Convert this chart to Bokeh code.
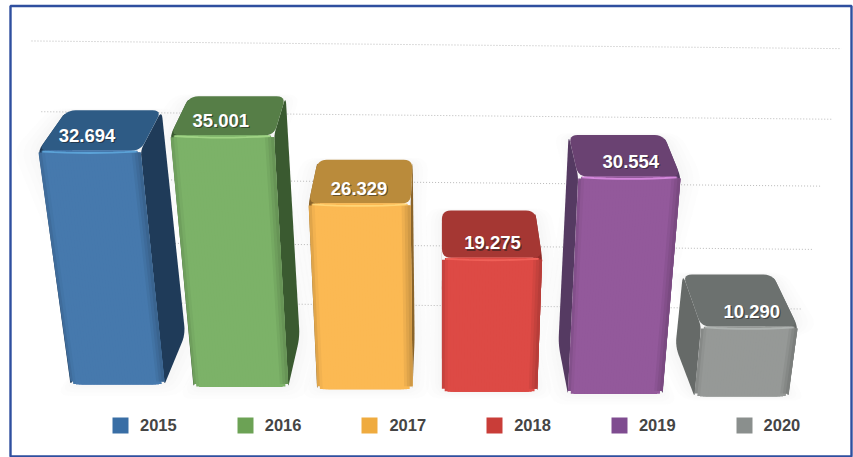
from bokeh.plotting import figure
from bokeh.models import ColumnDataSource, Legend, LegendItem, Range1d
from bokeh.embed import file_html
from bokeh.resources import INLINE
from bokeh.core.properties import value
import numpy as np

# ---- chart data ----
years = ["2015", "2016", "2017", "2018", "2019", "2020"]
values = [32694, 35001, 26329, 19275, 30554, 10290]
labels = ["32.694", "35.001", "26.329", "19.275", "30.554", "10.290"]
grid_values = [10000, 20000, 30000, 40000, 50000]

legend_colors = ["#396ea5", "#6ca255", "#efab3f", "#c93d38", "#7f4c90", "#8a8f8d"]
front_colors = ["#4679ad", "#7cb268", "#fbb953", "#dd4a45", "#93599b", "#969997"]
top_colors = ["#2e5b85", "#567e47", "#ba8b3b", "#a53733", "#6a4272", "#6c716f"]
side_colors = ["#1f3b59", "#3a5a30", "#8a642a", "#8f2c28", "#553a62", "#666a68"]
edge_colors = ["#5fa9de", "#a6d98a", "#ffd97c", "#f2645c", "#df8fe6", "#b2b6b4"]

# ---- value scale / projection of the 3D scene ----
W, H = 853, 457
BAR_STEP = 124.8      # px per category
VAL_PX = 0.00707      # px per value unit (axis scale)
X0, Y0 = 117.0, 384.0 # screen position of category 0 at value 0
VX = 440.0            # vanishing column


def dx(px):
    return (np.asarray(px, dtype=float) - X0) / BAR_STEP


def dy(py):
    return (Y0 - np.asarray(py, dtype=float)) / VAL_PX


def hexmix(c, t, target=(0, 0, 0)):
    r = [int(c[k:k + 2], 16) for k in (1, 3, 5)]
    m = [int(round(a + (b - a) * t)) for a, b in zip(r, target)]
    return "#%02x%02x%02x" % tuple(m)


def rounded(pts, radii):
    pts = [np.array(p, float) for p in pts]
    n = len(pts)
    if np.isscalar(radii):
        radii = [radii] * n
    out = []
    for k in range(n):
        r = radii[k]
        p_, a, b = pts[k], pts[k - 1], pts[(k + 1) % n]
        ra = min(r, np.linalg.norm(a - p_) / 2)
        rb = min(r, np.linalg.norm(b - p_) / 2)
        s = p_ + (a - p_) / np.linalg.norm(a - p_) * ra
        e = p_ + (b - p_) / np.linalg.norm(b - p_) * rb
        for t in np.linspace(0, 1, 7):
            out.append((1 - t) ** 2 * s + 2 * t * (1 - t) * p_ + t ** 2 * e)
    return np.array(out)


def box(i, v):
    kv = v / 1000
    h = 6.65 * kv + 0.0155 * kv * kv   # perspective foreshortening of height
    floor = Y0 + 2.4 * i
    c = X0 + BAR_STEP * i - 2.4 * np.sin(np.pi * i / 5)
    half = 47 + 0.35 * (2.5 - abs(i - 2.5))
    k = 1 + 0.00037 * h
    fb = [(c - half, floor), (c + half, floor)]
    ft_y = floor - h
    ft = [(VX + (c - half - VX) * k, ft_y), (VX + (c + half - VX) * k, ft_y)]
    s = 0.93
    bt_y = ft_y - (57 - 0.072 * h)
    bt = [(VX + (x - VX) * s, bt_y) for x, _ in ft]
    sb = 0.925
    bb_y = floor - 50
    bb = [(VX + (x - VX) * sb, bb_y) for x, _ in fb]
    return fb, ft, bt, bb


p = figure(width=W, height=H, output_backend="svg", toolbar_location=None,
           x_range=Range1d(float(dx(0)), float(dx(W))), y_range=Range1d(float(dy(H)), float(dy(0))),
           min_border=0, outline_line_color=None, background_fill_color="white",
           border_fill_color="white")
p.axis.visible = False
p.grid.visible = False


def poly(pts, **kw):
    pts = np.asarray(pts)
    return p.patch(dx(pts[:, 0]), dy(pts[:, 1]), **kw)


# frame
p.quad(left=[float(dx(10))], right=[float(dx(851))], top=[float(dy(5.5))], bottom=[float(dy(456))],
       fill_color=None, line_color="#2f4f9f", line_width=2.4)

# soft floor shadows
for i, v in enumerate(values):
    fb, ft, bt, bb = box(i, v)
    hull = np.array([ft[0], bt[0], bt[1], ft[1], bb[1], fb[1], fb[0], bb[0]])
    ctr = np.array([hull[:, 0].mean(), hull[:, 1].min() + 40])
    for g in (20, 14, 9, 5):
        sx = 1 + g / 60
        sy = 1 + g / 420
        grown = ctr + (hull - ctr) * np.array([sx, sy])
        poly(rounded(grown, 14), fill_color="#b4b4b4", fill_alpha=0.03, line_color=None)

# gridlines at the back wall
for gv in grid_values:
    g = gv / 1000
    ymid = 361 - 5.42 * g - 0.0183 * g * g
    half = 356 + 0.98 * g
    xs = np.array([436 - half, 436 + half])
    ys = ymid + (xs - 430) * 0.0095
    p.line(dx(xs), dy(ys), line_color="#a8a8a8", line_width=1, line_dash="1 2", line_alpha=0.8)

# bars
for i, v in enumerate(values):
    fb, ft, bt, bb = box(i, v)
    poly(rounded([fb[1], ft[1], bt[1], bb[1]], [3, 6, 8, 9]), fill_color=side_colors[i], line_color=None)
    poly(rounded([fb[0], ft[0], bt[0], bb[0]], [3, 6, 8, 9]), fill_color=side_colors[i], line_color=None)
    poly(rounded([ft[0], bt[0], bt[1], ft[1]], 9), fill_color=top_colors[i], line_color=None)

    # front face built of shaded strips painted left to right, with rounded ends
    N = 34
    us = np.linspace(0, 1, N + 1)
    step = us[1] - us[0]
    ru = 0.06

    def inset_at(u):
        dist = min(u, 1 - u)
        return 0.0 if dist >= ru else (1 - np.sqrt(max(0, 1 - ((ru - dist) / ru) ** 2)))

    xs_list, ys_list, cols = [], [], []
    for a in us[:-1]:
        e = min(a + 3 * step, 1.0)
        m = a + step / 2
        ins = max(inset_at(a), inset_at(e))
        xtl = ft[0][0] + (ft[1][0] - ft[0][0]) * a
        xtr = ft[0][0] + (ft[1][0] - ft[0][0]) * e
        xbl = fb[0][0] + (fb[1][0] - fb[0][0]) * a
        xbr = fb[0][0] + (fb[1][0] - fb[0][0]) * e
        yt = ft[0][1] + ins * 2
        yb = fb[0][1] - ins * 3
        shade = 0.0
        if m > 0.9:
            shade = (m - 0.9) / 0.1 * 0.2
        elif m < 0.06:
            shade = (0.06 - m) / 0.06 * 0.14
        xs_list.append(dx([xtl, xtr, xbr, xbl]))
        ys_list.append(dy([yt, yt, yb, yb]))
        cols.append(hexmix(front_colors[i], shade))
    p.patches(xs_list, ys_list, fill_color=cols, line_color=None)

    # bright edge between the top and front faces
    ex = np.linspace(ft[0][0] + 4, ft[1][0] - 4, 9)
    ey = ft[0][1] + 1 + 1.5 * np.sin(np.linspace(0, np.pi, 9))
    p.line(dx(ex), dy(ey), line_color=edge_colors[i], line_width=1.8, line_alpha=0.85)

# value labels
lx, ly = [], []
for i, v in enumerate(values):
    fb, ft, bt, bb = box(i, v)
    lx.append((ft[0][0] + ft[1][0]) / 2 + 1.0 * (i - 2.5))
    ly.append(ft[0][1] - 15)
lx = np.array(lx)
ly = np.array(ly)
src = ColumnDataSource(dict(x=dx(lx), y=dy(ly), s=dx(lx + 1.2), t=dy(ly + 1.3), label=labels))
p.text("s", "t", text="label", source=src, text_color="#1c1c1c", text_alpha=0.55, text_align="center",
       text_baseline="middle", text_font=value("Liberation Sans"), text_font_size="18.5px", text_font_style="bold")
p.text("x", "y", text="label", source=src, text_color="#ffffff", text_align="center",
       text_baseline="middle", text_font=value("Liberation Sans"), text_font_size="18.5px", text_font_style="bold")

# legend
items = []
for y, c in zip(years, legend_colors):
    r = p.quad(left=[np.nan], right=[np.nan], top=[np.nan], bottom=[np.nan], fill_color=c, line_color=None)
    items.append(LegendItem(label=y, renderers=[r]))
leg = Legend(items=items, orientation="horizontal", location=(110, 22), glyph_width=20, glyph_height=20,
             label_standoff=10, spacing=58, padding=0, margin=0, background_fill_alpha=0, border_line_color=None,
             label_text_font="Liberation Sans", label_text_font_style="bold", label_text_font_size="16.5px",
             label_text_color="#454545", label_height=20)
p.add_layout(leg, "center")

open("out.html", "w").write(file_html(p, INLINE))
